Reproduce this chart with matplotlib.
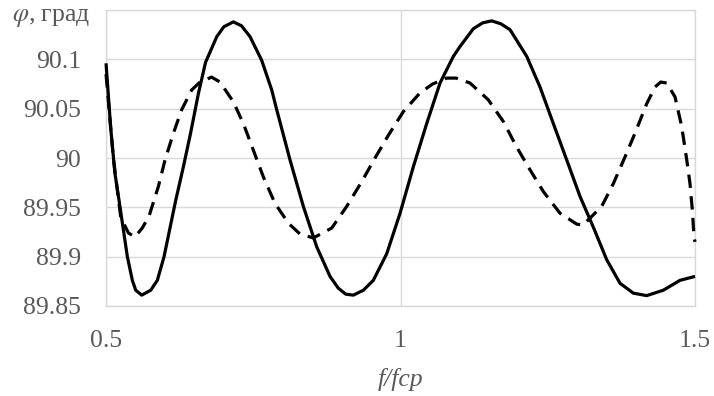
import matplotlib.pyplot as plt

plt.rcParams['font.family'] = ['Liberation Serif', 'DejaVu Serif']
plt.rcParams['mathtext.fontset'] = 'stix'

# values
f_solid = [0.5, 0.508, 0.515, 0.5221, 0.53, 0.5362, 0.5447, 0.5504, 0.5606, 0.5759,
           0.5871, 0.5985, 0.6183, 0.6313, 0.6435, 0.6567, 0.669, 0.688, 0.7, 0.7161,
           0.73, 0.7445, 0.7643, 0.7813, 0.7898, 0.8124, 0.835, 0.8577, 0.8803,
           0.8944, 0.907, 0.9199, 0.937, 0.9538, 0.9766, 0.9992, 1.0217, 1.0445,
           1.0671, 1.0897, 1.101, 1.1236, 1.1395, 1.1548, 1.1705, 1.186, 1.2143,
           1.2368, 1.2594, 1.2822, 1.3048, 1.3273, 1.35, 1.3727, 1.3953, 1.418,
           1.4462, 1.4745, 1.5]
phi_solid = [90.096, 90.030, 89.985, 89.957, 89.925, 89.900, 89.876, 89.866, 89.861, 89.866,
             89.876, 89.900, 89.957, 89.991, 90.025, 90.065, 90.097, 90.123, 90.133, 90.138,
             90.134, 90.123, 90.099, 90.069, 90.049, 89.998, 89.951, 89.910, 89.880,
             89.868, 89.862, 89.861, 89.866, 89.876, 89.903, 89.944, 89.991, 90.035,
             90.076, 90.103, 90.113, 90.131, 90.137, 90.139, 90.136, 90.130, 90.103,
             90.072, 90.035, 89.998, 89.961, 89.930, 89.897, 89.873, 89.863, 89.8605,
             89.866, 89.876, 89.880]

f_dash = [0.5, 0.5124, 0.525, 0.538, 0.5492, 0.5615, 0.573, 0.5888, 0.6002,
          0.6143, 0.6285, 0.6455, 0.6596, 0.6793, 0.6935, 0.7161, 0.7331, 0.7501,
          0.767, 0.7869, 0.8095, 0.8292, 0.852, 0.8832, 0.9087, 0.9341, 0.9567,
          0.9793, 1.0048, 1.0331, 1.0545, 1.0781, 1.0945, 1.118, 1.149, 1.1745,
          1.1973, 1.2199, 1.2425, 1.2708, 1.2991, 1.31, 1.3416, 1.3613, 1.3811,
          1.398, 1.418, 1.4321, 1.4418, 1.452, 1.466, 1.4774, 1.486, 1.4915,
          1.4955, 1.4983, 1.5]
phi_dash = [90.085, 90.000, 89.940, 89.924, 89.920, 89.929, 89.941, 89.971, 89.998,
            90.025, 90.049, 90.069, 90.077, 90.082, 90.077, 90.057, 90.035, 90.008,
            89.981, 89.954, 89.934, 89.923, 89.919, 89.929, 89.951, 89.976, 90.000,
            90.023, 90.047, 90.066, 90.075, 90.081, 90.081, 90.076, 90.059, 90.037,
            90.011, 89.988, 89.966, 89.944, 89.933, 89.932, 89.951, 89.974, 90.001,
            90.025, 90.055, 90.072, 90.077, 90.076, 90.062, 90.032, 89.998, 89.974,
            89.947, 89.920, 89.915]

x_ticks = [0.5, 1, 1.5]
y_ticks = [89.85, 89.9, 89.95, 90, 90.05, 90.1]
y_labels = ['89.85', '89.9', '89.95', '90', '90.05', '90.1']

fig = plt.figure(figsize=(7.14, 3.96), dpi=100)
ax = fig.add_axes([0.1485, 0.2273, 0.8249, 0.7474])

ax.plot(f_solid, phi_solid, color='black', lw=2.3, solid_joinstyle='round',
        solid_capstyle='butt', clip_on=False, zorder=3)
ax.plot(f_dash, phi_dash, color='black', lw=2.3, dashes=(4.2, 2.6),
        dash_joinstyle='round', clip_on=False, zorder=3)

ax.set_xlim(0.5, 1.5)
ax.set_ylim(89.85, 90.15)
ax.set_xticks(x_ticks)
ax.set_xticklabels(['0.5', '1', '1.5'])
ax.set_yticks(y_ticks + [90.15])
ax.set_yticklabels(y_labels + [''])
ax.grid(True, color='#d9d9d9', lw=1.0)
ax.set_axisbelow(True)
for s in ax.spines.values():
    s.set_color('#d9d9d9')
    s.set_linewidth(1.0)
ax.tick_params(length=0, labelsize=18.5, labelcolor='#595959')
ax.tick_params(axis='x', pad=17)
ax.tick_params(axis='y', pad=18)

ax.set_xlabel('f/fcp', fontsize=18.5, style='italic', color='#595959', labelpad=12)
fig.text(90 / 714, 1 - 18 / 396, r'$\varphi$, град', fontsize=18.5, color='#595959',
         ha='right', va='center')

fig.savefig('out.png', dpi=100)
